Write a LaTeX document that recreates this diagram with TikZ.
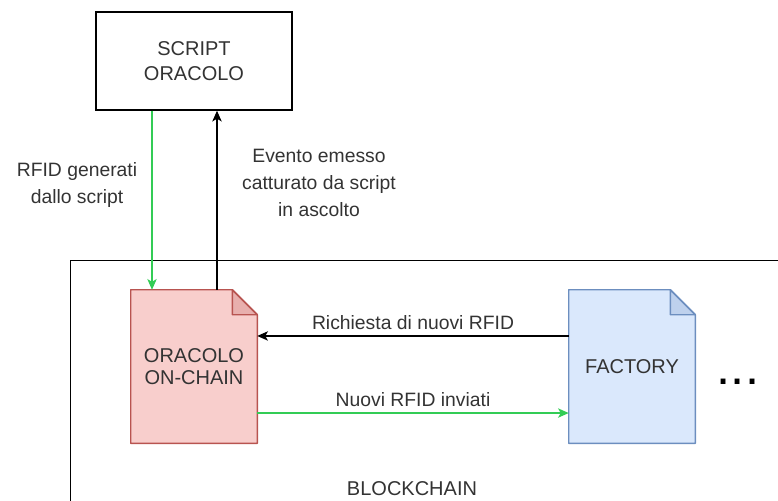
\documentclass[tikz,border=0pt]{standalone}
\usepackage{fontspec}
\setmainfont{Liberation Sans}
\usetikzlibrary{arrows.meta,positioning,calc,backgrounds}

\definecolor{redfill}{HTML}{F8CECC}
\definecolor{redline}{HTML}{B85450}
\definecolor{bluefill}{HTML}{DAE8FC}
\definecolor{blueline}{HTML}{6C8EBF}
\definecolor{sendgreen}{HTML}{33CC55}
\definecolor{txtgray}{HTML}{333333}

% document shape with folded corner, drawn behind node #1
\newcommand{\docshape}[3]{%
  \begin{scope}[on background layer]
    \filldraw[fill=#2, draw=#3, line width=1.1pt, line join=round]
      (#1.north west) -- ([xshift=-18.75pt]#1.north east) -- ([yshift=-18.75pt]#1.north east)
      -- (#1.south east) -- (#1.south west) -- cycle;
    \filldraw[fill=#3!25!#2, draw=#3, line width=1.1pt, line join=round]
      ([xshift=-18.75pt]#1.north east) -- ([xshift=-18.75pt,yshift=-18.75pt]#1.north east)
      -- ([yshift=-18.75pt]#1.north east) -- cycle;
  \end{scope}}

\begin{document}
\begin{tikzpicture}[x=0.75pt, y=-0.75pt,
    box/.style={draw, line width=1.1pt, minimum width=147pt, minimum height=73.5pt, align=center, text=txtgray, font=\fontsize{15}{19}\selectfont},
    doc/.style={minimum width=94.5pt, minimum height=114.75pt, align=center, text=txtgray, font=\fontsize{15}{16}\selectfont},
    lbl/.style={align=center, text=txtgray, font=\fontsize{14.5}{20}\selectfont},
    arrow/.style={-{Stealth[length=8pt, width=7pt, inset=2pt]}, line width=1pt},
    greenarrow/.style={arrow, draw=sendgreen}
]
\useasboundingbox (0,0) rectangle (778,500);
\clip (0,0) rectangle (778,500);

% Blockchain container
\node[draw, line width=1.1pt, anchor=north west, minimum width=560pt, minimum height=200pt] (chain) at (70,260) {};
\node[lbl, font=\fontsize{15}{19}\selectfont] (chainlabel) at (412,489) {BLOCKCHAIN};

% Nodes
\node[box] (script) at (194,61) {SCRIPT\\ORACOLO};
\node[doc] (oracolo) at (194,366.5) {ORACOLO\\ON-CHAIN};
\node[doc] (factory) at (632,366.5) {FACTORY};
\docshape{oracolo}{redfill}{redline}
\docshape{factory}{bluefill}{blueline}
\node[font=\fontsize{38}{38}\selectfont] (dots) at (738,382) {...};

% Vertical arrows
\draw[greenarrow] ([xshift=-31.5pt]script.south) -- ([xshift=-31.5pt]oracolo.north);
\draw[arrow] ([xshift=17.25pt]oracolo.north) -- ([xshift=17.25pt]script.south);
\node[lbl] (rfidlabel) at (77,185) {RFID generati\\dallo script};
\node[lbl] (eventolabel) at (319,183) {Evento emesso\\catturato da script\\in ascolto};

% Horizontal arrows
\draw[arrow] ([yshift=22.9pt]factory.west) -- ([yshift=22.9pt]oracolo.east)
  node[lbl, midway, above=1pt] {Richiesta di nuovi RFID};
\draw[greenarrow] ([yshift=-34.9pt]oracolo.east) -- ([yshift=-34.9pt]factory.west)
  node[lbl, midway, above=1pt] {Nuovi RFID inviati};
\end{tikzpicture}
\end{document}
